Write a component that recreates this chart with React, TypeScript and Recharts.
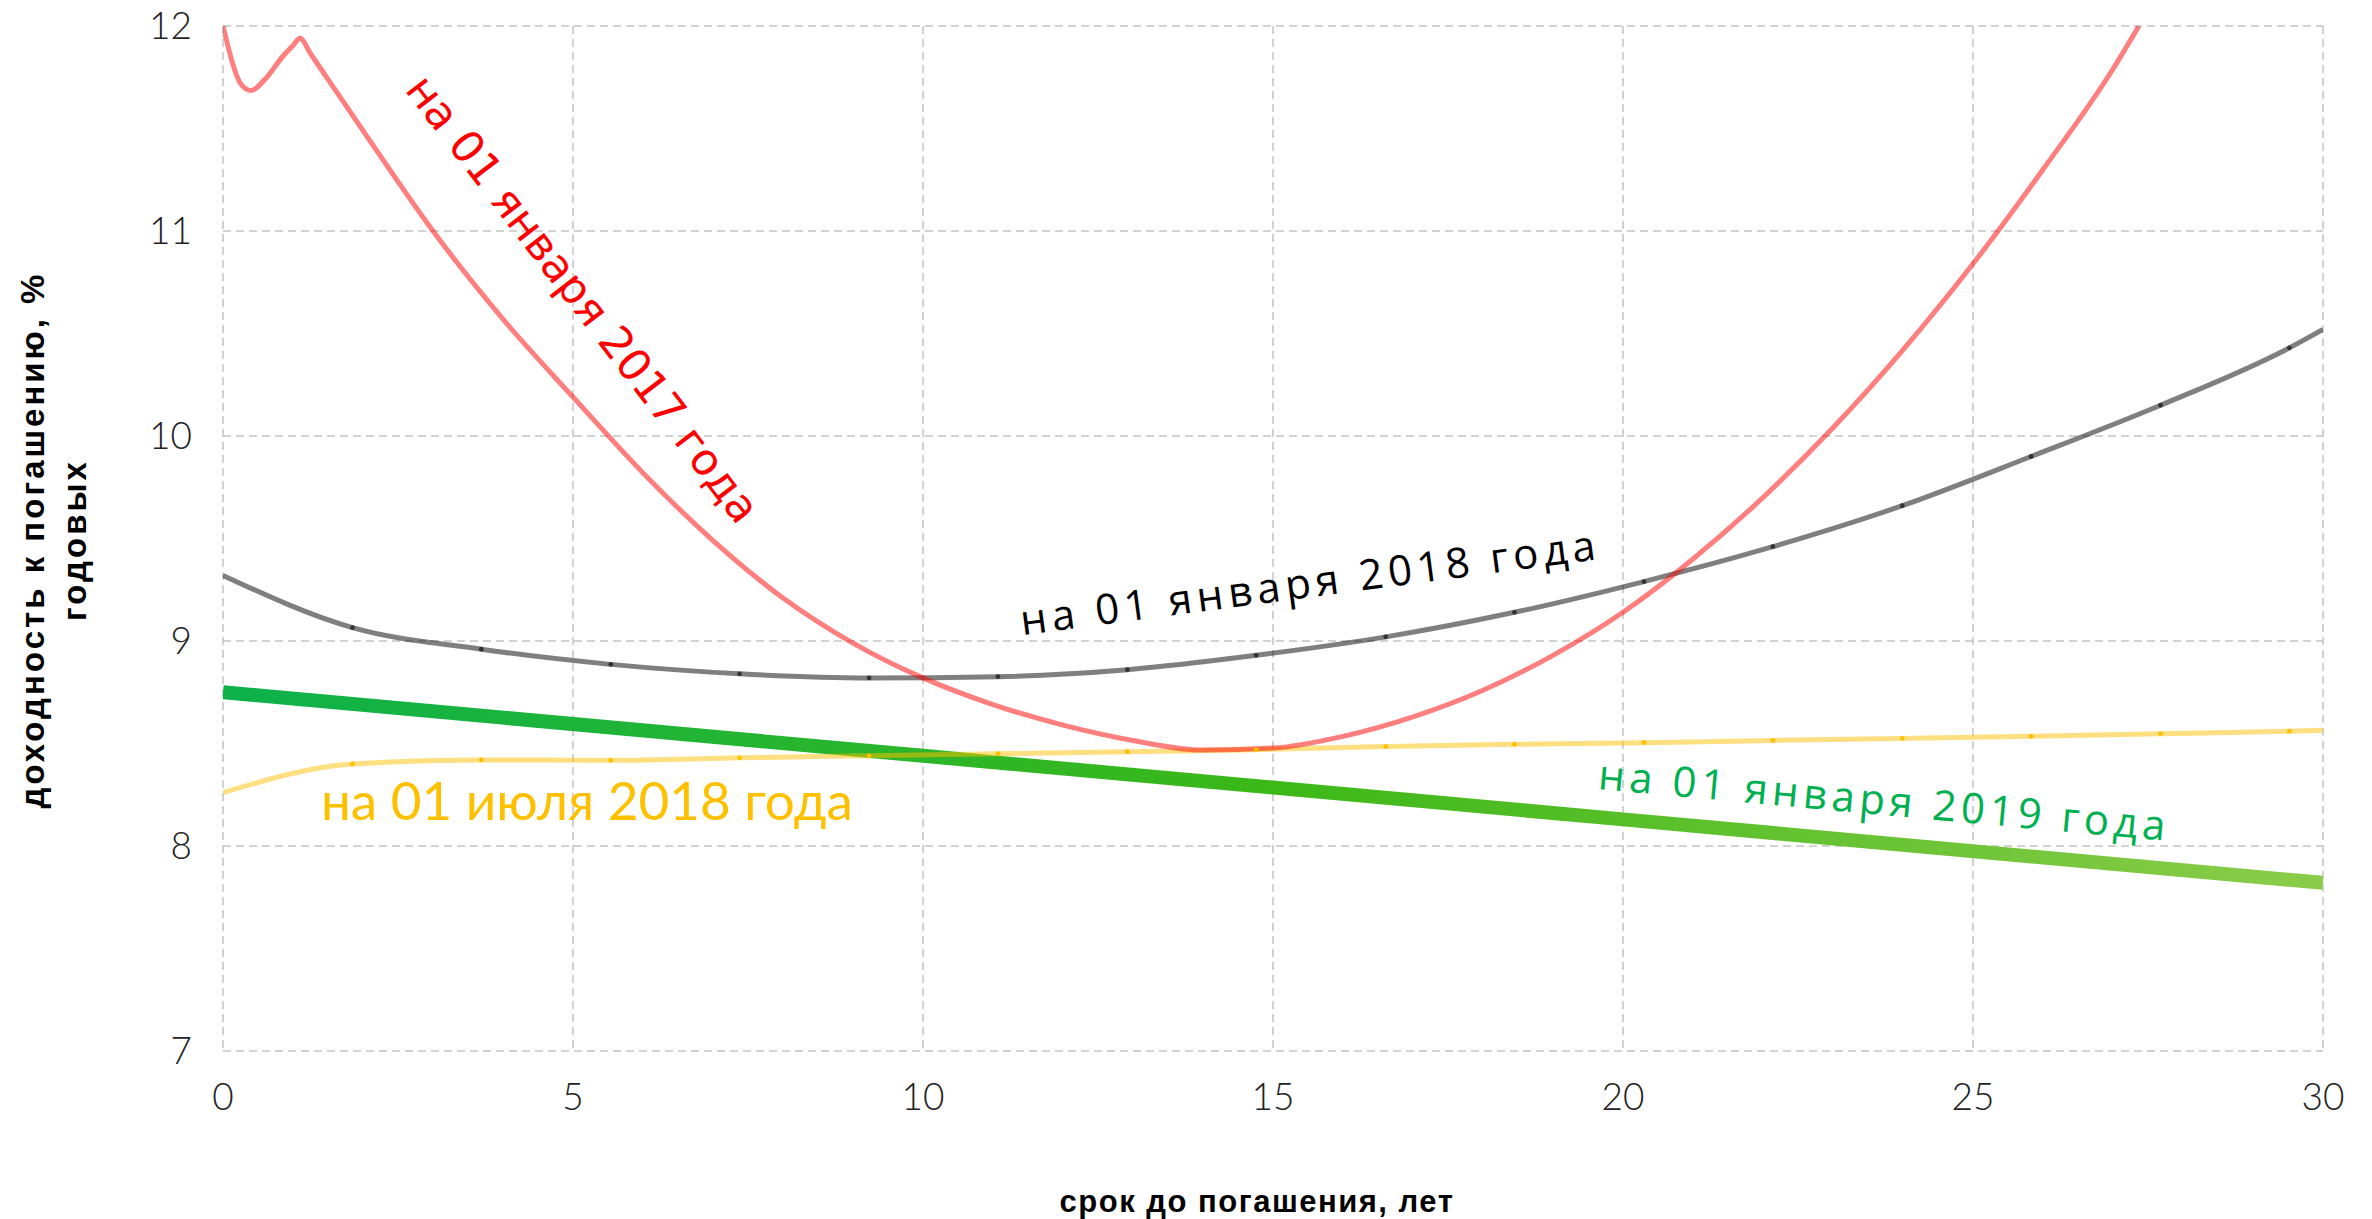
import React from 'react';
import { LineChart, Line, XAxis, YAxis, CartesianGrid } from 'recharts';

// maturity grid used by the 2018 curves (points where the dots sit)
const gridYears = [0, 1.85, 3.69, 5.54, 7.38, 9.23, 11.07, 12.92, 14.76, 16.61, 18.45, 20.3, 22.14, 23.99, 25.83, 27.68, 29.52, 30];
const yieldJan2018 = [9.32, 9.065, 8.96, 8.886, 8.84, 8.82, 8.826, 8.86, 8.93, 9.02, 9.14, 9.29, 9.46, 9.66, 9.9, 10.15, 10.43, 10.52];
const yieldJul2018 = [8.26, 8.4, 8.42, 8.418, 8.43, 8.44, 8.45, 8.46, 8.47, 8.485, 8.496, 8.504, 8.515, 8.525, 8.535, 8.548, 8.56, 8.565];

const years2017 = [0, 0.27, 0.4, 0.6, 0.85, 1.0, 1.1, 1.25, 1.5, 2, 3, 4, 5, 6, 7, 8, 9, 10, 11, 12, 13, 14, 15, 16, 17, 18, 19, 20, 21, 22, 23, 24, 25, 26, 27, 27.37];
const yieldJan2017 = [12.0, 11.71, 11.685, 11.74, 11.85, 11.905, 11.94, 11.865, 11.74, 11.49, 11.0, 10.57, 10.19, 9.82, 9.49, 9.21, 8.99, 8.82, 8.69, 8.59, 8.515, 8.468, 8.478, 8.535, 8.63, 8.76, 8.93, 9.14, 9.4, 9.7, 10.04, 10.42, 10.84, 11.3, 11.79, 12.0];

const years2019 = [0, 10, 20, 30];
const yieldJan2019 = [8.75, 8.44, 8.13, 7.82];

const xTicks = [0, 5, 10, 15, 20, 25, 30];
const yTicks = [7, 8, 9, 10, 11, 12];

const toPoints = (xs: number[], ys: number[]) => xs.map((x, i) => ({ x, y: ys[i] }));

const jan2017 = toPoints(years2017, yieldJan2017);
const jan2018 = toPoints(gridYears, yieldJan2018);
const jul2018 = toPoints(gridYears, yieldJul2018);
const jan2019 = toPoints(years2019, yieldJan2019);

const W = 2372;
const H = 1219;

const tickStyle = { fontFamily: 'Lato, sans-serif', fontWeight: 300, fontSize: 37, fill: '#222' };

const dotRenderer = (color: string, lastIndex: number) => (props: any) => {
  const { cx, cy, index } = props;
  if (index === 0 || index === lastIndex) return <g key={`d-${color}-${index}`} />;
  return <circle key={`d-${color}-${index}`} cx={cx} cy={cy} r={2.4} fill={color} />;
};

export default function App() {
  return (
    <div style={{ position: 'absolute', left: 0, top: 0, width: W, height: H, background: '#fff' }}>
      <LineChart width={W} height={H} margin={{ top: 26, right: 49, left: 0, bottom: 0 }}>
        <defs>
          <linearGradient id="greenGrad" x1="0" y1="0" x2="1" y2="0">
            <stop offset="0%" stopColor="#0db14b" />
            <stop offset="50%" stopColor="#3cb818" />
            <stop offset="100%" stopColor="#8bcc4a" />
          </linearGradient>
        </defs>
        <CartesianGrid stroke="#c4c4c4" strokeWidth={1.5} strokeDasharray="8 5" />
        <XAxis
          type="number"
          dataKey="x"
          domain={[0, 30]}
          ticks={xTicks}
          axisLine={false}
          tickLine={false}
          tickSize={0}
          tickMargin={33}
          height={168}
          tick={tickStyle}
          allowDataOverflow
        />
        <YAxis
          type="number"
          dataKey="y"
          domain={[7, 12]}
          ticks={yTicks}
          axisLine={false}
          tickLine={false}
          tickSize={0}
          tickMargin={31}
          width={223}
          tick={tickStyle}
          allowDataOverflow
        />
        <Line
          data={jan2019}
          dataKey="y"
          type="linear"
          stroke="url(#greenGrad)"
          strokeWidth={14}
          dot={false}
          isAnimationActive={false}
        />
        <Line
          data={jul2018}
          dataKey="y"
          type="monotone"
          stroke="#ffc000"
          strokeOpacity={0.5}
          strokeWidth={5}
          dot={dotRenderer('#ffc000', jul2018.length - 1)}
          isAnimationActive={false}
        />
        <Line
          data={jan2018}
          dataKey="y"
          type="monotone"
          stroke="#000"
          strokeOpacity={0.5}
          strokeWidth={5}
          dot={dotRenderer('#333', jan2018.length - 1)}
          isAnimationActive={false}
        />
        <Line
          data={jan2017}
          dataKey="y"
          type="monotone"
          stroke="#ff0000"
          strokeOpacity={0.5}
          strokeWidth={5}
          dot={false}
          isAnimationActive={false}
        />
      </LineChart>

      <svg width={W} height={H} style={{ position: 'absolute', left: 0, top: 0, pointerEvents: 'none' }}>
        <text
          x={571}
          y={308}
          textAnchor="middle"
          transform="rotate(52.6 571 308)"
          fontFamily="DejaVu Sans, sans-serif"
          fontSize={44}
          fill="#ff0000"
        >
          на 01 января 2017 года
        </text>
        <text
          x={1312}
          y={597}
          textAnchor="middle"
          transform="rotate(-7.5 1312 597)"
          fontFamily="Open Sans, sans-serif"
          fontSize={42}
          letterSpacing={5}
          fill="#000"
        >
          на 01 января 2018 года
        </text>
        <text
          x={1883}
          y={815}
          textAnchor="middle"
          transform="rotate(5.2 1883 815)"
          fontFamily="Open Sans, sans-serif"
          fontSize={42}
          letterSpacing={4.5}
          fill="#00b050"
        >
          на 01 января 2019 года
        </text>
        <text x={321} y={820} fontFamily="Lato, sans-serif" fontSize={53} fill="#ffc000">
          на 01 июля 2018 года
        </text>

        <text
          x={1257}
          y={1212}
          textAnchor="middle"
          fontFamily="Liberation Sans, Arial, sans-serif"
          fontWeight={700}
          fontSize={31}
          letterSpacing={1.5}
          fill="#000"
        >
          срок до погашения, лет
        </text>
        <g transform="rotate(-90 44 540)">
          <text
            x={44}
            y={540}
            textAnchor="middle"
            fontFamily="Liberation Sans, Arial, sans-serif"
            fontWeight={700}
            fontSize={33}
            letterSpacing={3}
            fill="#000"
          >
            доходность к погашению, %
          </text>
        </g>
        <g transform="rotate(-90 86 540)">
          <text
            x={86}
            y={540}
            textAnchor="middle"
            fontFamily="Liberation Sans, Arial, sans-serif"
            fontWeight={700}
            fontSize={33}
            letterSpacing={3}
            fill="#000"
          >
            годовых
          </text>
        </g>
      </svg>
    </div>
  );
}
